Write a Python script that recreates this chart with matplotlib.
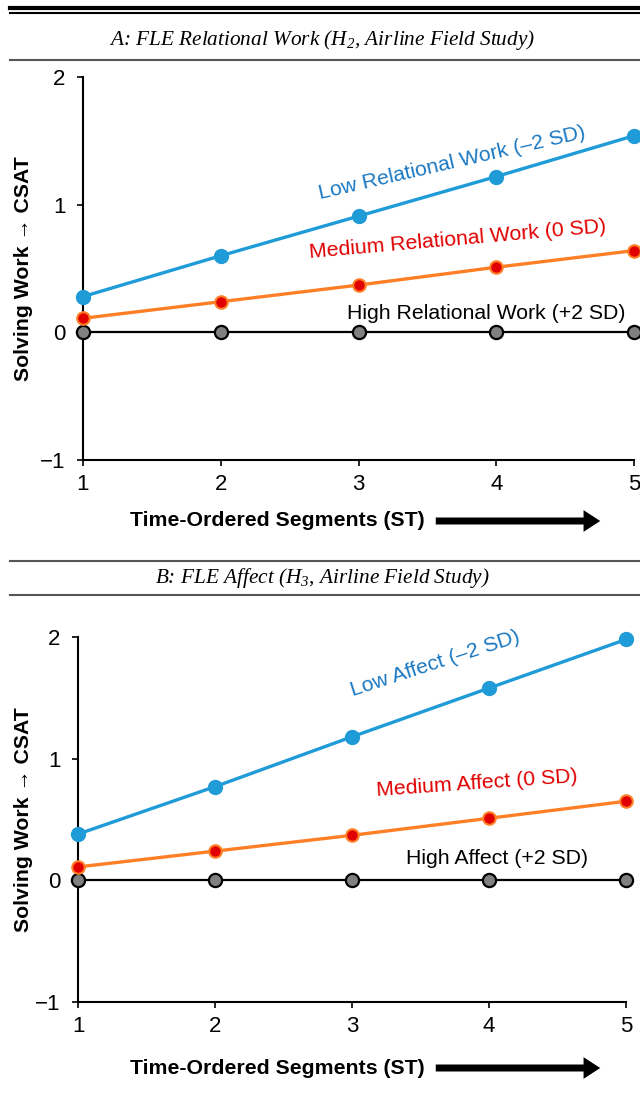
import matplotlib
matplotlib.use("Agg")
import matplotlib.pyplot as plt
from matplotlib.lines import Line2D
from matplotlib.patches import FancyArrowPatch

# data
segments = [1, 2, 3, 4, 5]
low_rel = [0.28, 0.60, 0.91, 1.22, 1.54]
med_rel = [0.11, 0.24, 0.37, 0.51, 0.64]
high_rel = [0, 0, 0, 0, 0]
low_aff = [0.38, 0.77, 1.18, 1.58, 1.98]
med_aff = [0.11, 0.24, 0.37, 0.51, 0.65]
high_aff = [0, 0, 0, 0, 0]

titles = ["A: FLE Relational Work (H$_{2}$, Airline Field Study)",
          "B: FLE Affect (H$_{3}$, Airline Field Study)"]
labels_a = ["Low Relational Work (\u20132 SD)", "Medium Relational Work (0 SD)", "High Relational Work (+2 SD)"]
labels_b = ["Low Affect (\u20132 SD)", "Medium Affect (0 SD)", "High Affect (+2 SD)"]

plt.rcParams['font.family'] = ['Liberation Sans', 'DejaVu Sans']
plt.rcParams['mathtext.fontset'] = 'custom'
plt.rcParams['mathtext.rm'] = 'Liberation Serif:italic'
plt.rcParams['mathtext.it'] = 'Liberation Serif:italic'

W, H = 640, 1093
fig = plt.figure(figsize=(6.4, 10.93), dpi=100)

def fx(px):
    return px / W

def fy(py):
    return 1 - py / H

BLUE = "#1f9bd7"
BLUE_TXT = "#1a78c2"
ORANGE = "#ff7f27"
RED = "#e00000"
FS = 15.3

def rule(py, lw, color="black"):
    fig.add_artist(Line2D([fx(10), 1], [fy(py), fy(py)], lw=lw, color=color,
                          transform=fig.transFigure))

rule(7.5, 3.0)
rule(12.5, 1.5)
rule(60, 1.5, "#555555")
rule(561, 1.5, "#555555")
rule(595, 1.5, "#555555")

fig.text(fx(322), fy(40), titles[0], ha="center", va="center", fontsize=FS,
         family="Liberation Serif", style="italic")
fig.text(fx(322), fy(578), titles[1], ha="center", va="center", fontsize=FS,
         family="Liberation Serif", style="italic")

panels = [
    dict(box=(83, 634, 77, 460), low=low_rel, med=med_rel, high=high_rel, labels=labels_a,
         pos=[(3.68, 1.33, 13), (3.72, 0.73, 5), (3.93, 0.15, 0)], xlab_y=521, ylab=-0.091),
    dict(box=(78, 626, 637, 1002), low=low_aff, med=med_aff, high=high_aff, labels=labels_b,
         pos=[(3.61, 1.78, 18), (3.91, 0.80, 4), (4.06, 0.18, 0)], xlab_y=1068, ylab=-0.082),
]

for p in panels:
    l, r, t, b = p["box"]
    ax = fig.add_axes([fx(l), fy(b), fx(r - l), fy(t) - fy(b)])
    ax.set_xlim(1, 5)
    ax.set_ylim(-1, 2)
    for s in ["top", "right"]:
        ax.spines[s].set_visible(False)
    ax.spines["left"].set_linewidth(1.5)
    ax.spines["bottom"].set_linewidth(1.5)
    ax.set_xticks(segments)
    ax.set_yticks([-1, 0, 1, 2])
    ax.set_yticklabels(["\u22121", "0", "1", "2"])
    ax.tick_params(axis="y", direction="out", length=4.5, width=1.2, labelsize=16, pad=8)
    ax.tick_params(axis="x", direction="out", length=4, width=1.2, labelsize=16, pad=6)

    ax.plot(segments, p["high"], color="black", lw=1.6, marker="o", ms=9.5,
            mfc="#808080", mec="black", mew=1.6, clip_on=False, zorder=3)
    ax.plot(segments, p["med"], color=ORANGE, lw=2.4, marker="o", ms=9,
            mfc=RED, mec=ORANGE, mew=1.5, clip_on=False, zorder=4)
    ax.plot(segments, p["low"], color=BLUE, lw=2.4, marker="o", ms=10,
            mfc=BLUE, mec=BLUE, clip_on=False, zorder=5)

    colors = [BLUE_TXT, RED, "black"]
    for (x, y, rot), txt, c in zip(p["pos"], p["labels"], colors):
        ax.text(x, y, txt, color=c, fontsize=FS, rotation=rot, ha="center", va="center",
                rotation_mode="anchor")

    ax.set_ylabel("Solving Work \u2192 CSAT", fontsize=FS, fontweight="bold")
    ax.yaxis.set_label_coords(p["ylab"], 0.5)

    fig.text(fx(277), fy(p["xlab_y"]), "Time-Ordered Segments (ST)", ha="center",
             va="center", fontsize=FS, fontweight="bold")
    fig.add_artist(FancyArrowPatch(
        (fx(433), fy(p["xlab_y"])), (fx(603), fy(p["xlab_y"])),
        transform=fig.transFigure, arrowstyle="simple,tail_width=0.42,head_width=1.3,head_length=1.0",
        mutation_scale=12, color="black", lw=0))

fig.savefig("out.png", dpi=100)
